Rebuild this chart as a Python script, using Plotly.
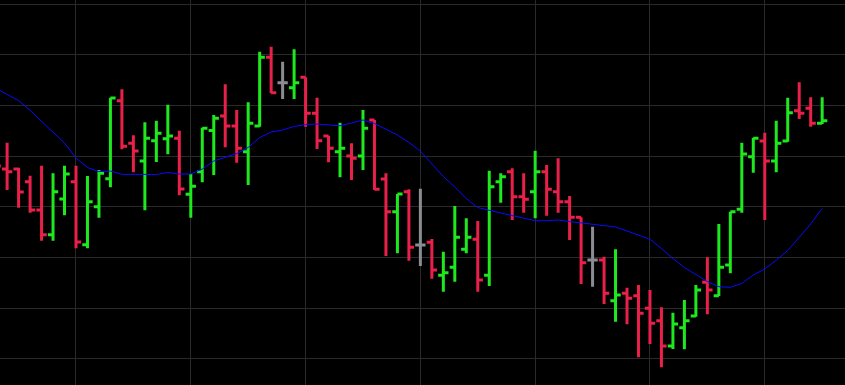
import plotly.graph_objects as go

# bar index (0 = first fully visible bar)
idx = list(range(-1, 72))

open_ = [251.2, 237.4, 237.4, 224.9, 197.0, 172.6, 207.8, 224.9, 162.7, 200.2,
         227.9, 304.8, 262.8, 245.3, 265.4, 267.3, 267.7, 212.5, 234.8, 275.4,
         289.7, 279.9, 254.5, 279.9, 347.7, 322.6, 317.7, 327.9, 292.4, 270.0,
         254.5, 250.3, 250.3, 285.8, 227.6, 195.3, 215.0, 162.4, 165.1, 132.5,
         140.4, 158.2, 168.1, 132.5, 224.9, 234.8, 210.1, 215.0, 234.8, 215.0,
         205.2, 189.8, 147.6, 147.6, 107.5, 114.8, 112.4, 100.0, 87.7, 62.8,
         80.8, 92.4, 125.6, 112.4, 142.7, 197.7, 249.6, 265.1, 245.3, 265.1,
         295.0, 297.3, 282.5]
high = [261.1, 263.4, 238.7, 230.8, 240.7, 233.2, 240.7, 240.7, 230.5, 236.4,
        307.8, 316.1, 270.7, 283.5, 285.1, 300.9, 275.2, 232.5, 278.2, 290.7,
        321.0, 295.7, 303.3, 353.2, 358.1, 343.3, 355.6, 327.9, 307.8, 270.3,
        283.1, 262.8, 295.7, 285.8, 233.2, 212.8, 217.4, 218.0, 168.4, 155.8,
        200.9, 188.8, 186.1, 235.8, 233.2, 238.1, 233.2, 255.5, 241.4, 248.0,
        210.8, 189.8, 180.5, 150.9, 158.2, 120.3, 123.0, 118.0, 101.0, 95.6,
        108.2, 123.0, 150.3, 183.2, 195.3, 263.4, 268.3, 273.3, 285.1, 307.8,
        323.0, 308.2, 308.2]
low = [234.5, 216.7, 199.2, 194.3, 166.7, 166.7, 191.7, 159.2, 159.2, 189.4,
       219.4, 256.9, 234.2, 196.7, 244.3, 251.9, 211.5, 189.4, 224.3, 231.5,
       258.8, 243.7, 221.6, 279.2, 312.1, 306.5, 306.5, 279.2, 257.2, 244.0,
       229.2, 226.6, 236.4, 216.7, 151.6, 154.2, 146.9, 141.7, 129.2, 116.4,
       126.2, 154.2, 116.4, 122.0, 204.2, 187.1, 194.3, 188.8, 191.4, 194.3,
       167.4, 123.9, 121.3, 104.2, 86.8, 84.2, 51.6, 64.7, 41.8, 59.8,
       59.5, 91.7, 94.1, 112.1, 134.5, 194.3, 233.8, 187.1, 234.2, 264.4,
       286.8, 279.2, 281.8]
close = [240.4, 234.8, 214.7, 197.0, 172.6, 215.0, 232.5, 165.4, 205.2, 233.2,
         307.5, 259.8, 255.2, 267.7, 272.7, 270.0, 217.7, 220.4, 277.6, 287.5,
         279.9, 257.9, 282.5, 347.7, 312.7, 322.6, 322.6, 292.4, 265.4, 257.9,
         257.9, 248.0, 277.6, 217.4, 195.3, 212.8, 160.2, 162.4, 137.8, 135.1,
         170.0, 170.0, 127.9, 220.0, 229.8, 210.1, 207.5, 234.8, 217.4, 205.2,
         189.8, 145.0, 147.6, 114.8, 113.1, 109.8, 95.0, 85.2, 62.8, 84.5,
         87.7, 118.0, 118.0, 140.4, 195.3, 252.2, 267.7, 245.3, 262.8, 293.0,
         292.4, 282.5, 285.1]
moving_avg = [317.0, 311.0, 305.0, 295.2, 284.8, 274.4, 263.1, 248.3, 238.9, 234.9,
              235.4, 232.2, 232.2, 232.0, 232.0, 234.0, 232.5, 232.5, 237.4, 245.3,
              249.3, 252.7, 258.7, 268.5, 273.9, 275.9, 279.4, 281.3, 281.8, 280.6,
              280.1, 282.8, 285.8, 282.3, 276.4, 271.0, 263.6, 255.2, 242.4, 230.0,
              219.7, 208.3, 199.4, 196.5, 194.0, 191.5, 189.1, 186.4, 186.4, 187.1,
              185.6, 184.1, 183.2, 181.7, 180.2, 176.3, 171.8, 168.1, 159.0, 149.1,
              140.2, 133.3, 126.4, 121.3, 120.7, 124.6, 132.8, 138.8, 147.3, 157.0,
              170.3, 183.2, 198.5]

UP = "#1ee81e"
DOWN = "#e8204a"
FLAT = "#8a8b93"

fig = go.Figure()

def subset(cond):
    sel = [i for i in range(len(idx)) if cond(open_[i], close[i])]
    return ([idx[i] for i in sel], [open_[i] for i in sel], [high[i] for i in sel],
            [low[i] for i in sel], [close[i] for i in sel])

for cond, col in [(lambda o, c: c > o, UP), (lambda o, c: c < o, DOWN), (lambda o, c: c == o, FLAT)]:
    xs, o, h, l, c = subset(cond)
    fig.add_trace(go.Ohlc(
        x=xs, open=o, high=h, low=l, close=c,
        increasing=dict(line=dict(color=col, width=3)),
        decreasing=dict(line=dict(color=col, width=3)),
        tickwidth=0.45, showlegend=False, hoverinfo="skip",
    ))

fig.add_trace(go.Scatter(
    x=idx, y=moving_avg, mode="lines",
    line=dict(color="#0a0aff", width=1), showlegend=False, hoverinfo="skip",
))

fig.update_layout(
    width=845, height=385,
    margin=dict(l=0, r=0, t=0, b=0),
    paper_bgcolor="#000000", plot_bgcolor="#000000",
    showlegend=False,
    xaxis=dict(range=[-0.62, 72.99], tick0=6, dtick=10, showgrid=True,
               gridcolor="#2a2a2a", gridwidth=1, zeroline=False,
               showticklabels=False, ticks="", rangeslider=dict(visible=False),
               fixedrange=True),
    yaxis=dict(range=[24.3, 404.2], tick0=0, dtick=50, showgrid=True,
               gridcolor="#2a2a2a", gridwidth=1, zeroline=False,
               showticklabels=False, ticks="", fixedrange=True),
)

fig.write_html("out.html")
